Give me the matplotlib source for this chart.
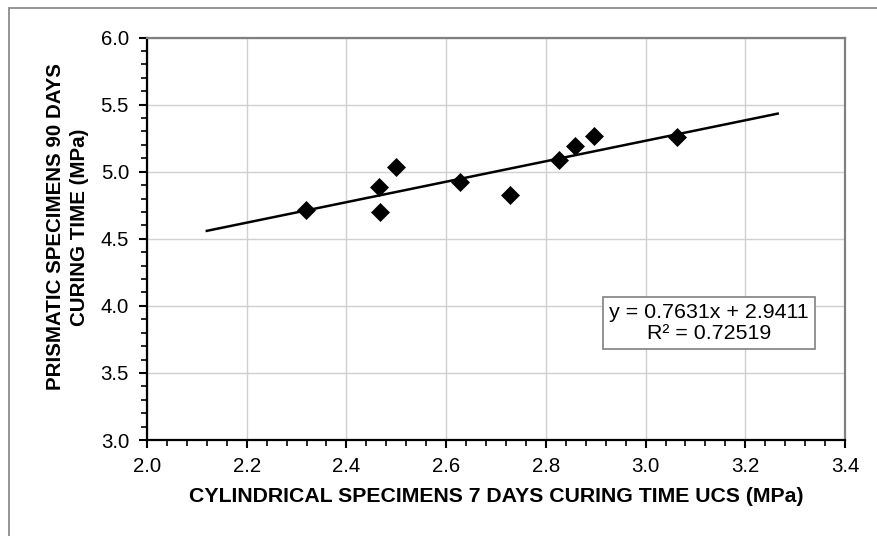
import matplotlib
matplotlib.use("Agg")
import matplotlib.pyplot as plt
from matplotlib.ticker import MultipleLocator, FormatStrFormatter
from matplotlib.patches import Rectangle
import numpy as np

plt.rcParams['font.family'] = ['Liberation Sans', 'DejaVu Sans']

# Data
ucs_7d_cyl = [2.319, 2.466, 2.467, 2.499, 2.627, 2.729, 2.826, 2.858, 2.896, 3.063]
ucs_90d_prism = [4.711, 4.882, 4.700, 5.035, 4.923, 4.827, 5.085, 5.189, 5.266, 5.258]
slope = 0.7631
intercept = 2.9411
r2 = 0.72519
trend_x_range = [2.12, 3.265]

x_label = "CYLINDRICAL SPECIMENS 7 DAYS CURING TIME UCS (MPa)"
y_label = "PRISMATIC SPECIMENS 90 DAYS\nCURING TIME (MPa)"

W, H = 877, 536
fig = plt.figure(figsize=(W / 100, H / 100), dpi=100)
ax = fig.add_axes([147 / W, 1 - 440 / H, (845 - 147) / W, (440 - 37.5) / H])

# outer chart border
fig.patches.append(Rectangle((9 / W, -0.1), 1.2, 1 - 8 / H + 0.1, transform=fig.transFigure,
                             fill=False, edgecolor='#8c8c8c', linewidth=1.3))

ax.set_xlim(2.0, 3.4)
ax.set_ylim(3.0, 6.0)
ax.xaxis.set_major_locator(MultipleLocator(0.2))
ax.xaxis.set_minor_locator(MultipleLocator(0.04))
ax.yaxis.set_major_locator(MultipleLocator(0.5))
ax.yaxis.set_minor_locator(MultipleLocator(0.1))
ax.xaxis.set_major_formatter(FormatStrFormatter('%.1f'))
ax.yaxis.set_major_formatter(FormatStrFormatter('%.1f'))

ax.grid(True, which='major', color='#d0d0d0', linewidth=1.0)
ax.set_axisbelow(True)

for s in ['left', 'bottom']:
    ax.spines[s].set_color('black')
    ax.spines[s].set_linewidth(1.6)
for s in ['top', 'right']:
    ax.spines[s].set_color('#808080')
    ax.spines[s].set_linewidth(1.6)

ax.tick_params(which='major', direction='out', length=6, width=1.5, labelsize=14.7, pad=6, colors='black')
ax.tick_params(which='minor', direction='out', length=4, width=1.2)
ax.tick_params(axis='y', which='major', pad=7)

# trend line
tx = np.array(trend_x_range)
ax.plot(tx, slope * tx + intercept, color='black', linewidth=1.8, zorder=3)

ax.plot(ucs_7d_cyl, ucs_90d_prism, linestyle='none', marker='D', markersize=9.2,
        color='black', markeredgewidth=0.5, zorder=4)

ax.text(3.127, 3.87, f"y = {slope}x + {intercept}\nR² = {r2}", ha='center', va='center',
        fontsize=15.4, linespacing=1.12,
        bbox=dict(boxstyle='square,pad=0.28', facecolor='white', edgecolor='#808080', linewidth=1.2),
        zorder=5)

fig.text(496 / W, 1 - 496 / H, x_label, ha='center', va='center', fontsize=15.3, fontweight='bold')
fig.text(67.5 / W, 1 - 227 / H, y_label, ha='center', va='center', fontsize=14.8, fontweight='bold',
         rotation=90, linespacing=1.28)

fig.savefig("out.png", dpi=100)
